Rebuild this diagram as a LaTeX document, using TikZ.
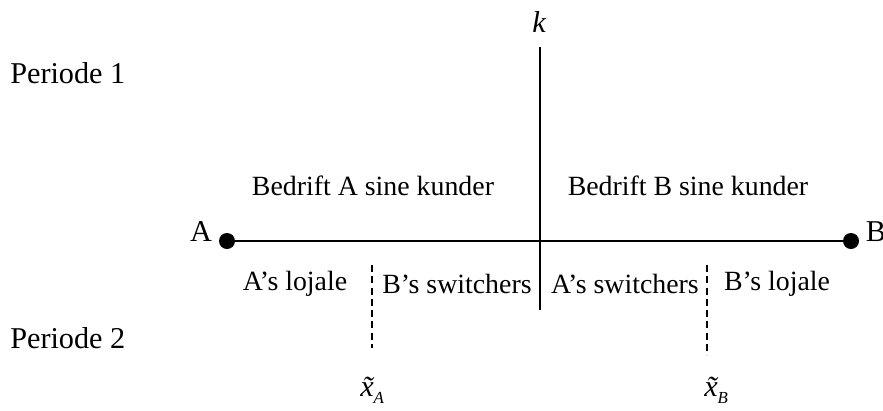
\documentclass[tikz,border=0pt]{standalone}
\usepackage{fontspec}
\setmainfont{Liberation Serif}
\usetikzlibrary{positioning}

\begin{document}
\begin{tikzpicture}[
  x=0.025cm, y=-0.025cm,
  lbl/.style={inner sep=0pt, font=\fontsize{19.8}{22}\selectfont},
  big/.style={inner sep=0pt, font=\fontsize{21.5}{24}\selectfont},
  per/.style={big, anchor=west},
  dot/.style={circle, fill=black, inner sep=0pt, minimum size=16*0.025cm},
  axis/.style={line width=1.4pt},
  cut/.style={line width=1.4pt, dash pattern=on 5pt off 3pt}
]
  \useasboundingbox (0,0) rectangle (883,410);

  % end points and axis
  \node[dot] (dotA) at (227,241) {};
  \node[dot] (dotB) at (851,241) {};
  \node[big] (labA) at (201,232) {A};
  \node[big] (labB) at (876,232) {B};
  \draw[axis] (dotA) -- (dotB);

  \coordinate (ktop) at (540,47);
  \coordinate (kbot) at (540,310);
  \draw[axis] (ktop) -- (kbot);
  \node[big, font=\fontsize{21.5}{24}\selectfont\itshape] (k) at (539,22) {k};

  % thresholds
  \coordinate (xAtop) at (372,265);
  \coordinate (xAbot) at (372,348);
  \coordinate (xBtop) at (707,265);
  \coordinate (xBbot) at (707,355);
  \draw[cut] (xAtop) -- (xAbot);
  \draw[cut] (xBtop) -- (xBbot);
  \node[big, anchor=base west, font=\fontsize{21.5}{24}\selectfont\itshape]
    (xA) at (360,396) {\~{x}\raisebox{-5pt}{\fontsize{12}{12}\selectfont A}};
  \node[big, anchor=base west, font=\fontsize{21.5}{24}\selectfont\itshape]
    (xB) at (704,396) {\~{x}\raisebox{-5pt}{\fontsize{12}{12}\selectfont B}};

  % periods
  \node[per] (p1) at (10,73) {Periode 1};
  \node[per] (p2) at (10,338) {Periode 2};

  % customer groups
  \node[lbl] (kundA) at (373,186) {Bedrift A sine kunder};
  \node[lbl] (kundB) at (688,186) {Bedrift B sine kunder};
  \node[lbl] (lojA)  at (295,284) {A’s lojale};
  \node[lbl] (swB)   at (457,284) {B’s switchers};
  \node[lbl] (swA)   at (625,284) {A’s switchers};
  \node[lbl] (lojB)  at (777,284) {B’s lojale};
\end{tikzpicture}
\end{document}
